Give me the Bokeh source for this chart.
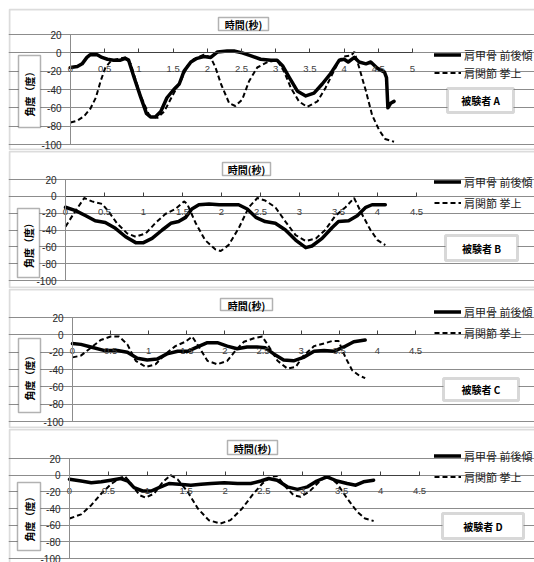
import math
from bokeh.plotting import figure
from bokeh.models import Range1d, FixedTicker, Legend, LegendItem, Label, BoxAnnotation
from bokeh.layouts import column
from bokeh.embed import file_html
from bokeh.resources import INLINE

try:
    from bokeh.models import GlobalInlineStyleSheet
except Exception:
    GlobalInlineStyleSheet = None

# ---------------- data ----------------
SERIES_NAMES = ["肩甲骨 前後傾", "肩関節 挙上"]
X_TITLE = "時間(秒)"
Y_TITLE = "角度（度）"
SUBJECT_LABELS = ["被験者 A", "被験者 B", "被験者 C", "被験者 D"]

Y_TICKS = [20, 0, -20, -40, -60, -80, -100]
Y_TICK_LABELS = ["20", "0", "-20", "-40", "-60", "-80", "-100"]
X_TICKS_A = [0, 0.5, 1, 1.5, 2, 2.5, 3, 3.5, 4, 4.5, 5]
X_TICK_LABELS_A = ["0", "0.5", "1", "1.5", "2", "2.5", "3", "3.5", "4", "4.5", "5"]
X_TICKS_BCD = [0, 0.5, 1, 1.5, 2, 2.5, 3, 3.5, 4, 4.5]
X_TICK_LABELS_BCD = ["0", "0.5", "1", "1.5", "2", "2.5", "3", "3.5", "4", "4.5"]

# Subject A
a_scap_t = [0, 0.1, 0.17, 0.24, 0.29, 0.39, 0.46, 0.54, 0.63, 0.73, 0.8, 0.85, 0.93, 1.02, 1.11, 1.17, 1.24, 1.32,
            1.41, 1.51, 1.59, 1.66, 1.76, 1.85, 1.95, 2.05, 2.15, 2.29, 2.39, 2.51, 2.63, 2.78, 2.93, 3.02, 3.1, 3.2,
            3.32, 3.44, 3.56, 3.68, 3.8, 3.93, 4.0, 4.06, 4.15, 4.22, 4.32, 4.39, 4.49, 4.59, 4.62, 4.64, 4.68, 4.73]
a_scap_v = [-16, -15, -12, -5, -2, -2, -5, -7, -8, -8, -6, -8, -27, -47, -66, -70, -70, -64,
            -49, -40, -34, -20, -10, -6, -4, -5, 1, 2, 2, 0, -3, -7, -8, -8, -14, -27,
            -42, -47, -44, -34, -23, -8, -7, -10, -5, -10, -12, -10, -17, -21, -27, -60, -55, -53]
a_sh_t = [0, 0.1, 0.2, 0.29, 0.37, 0.44, 0.51, 0.59, 0.68, 0.8, 0.88, 1.02, 1.15, 1.27, 1.37, 1.51, 1.61, 1.71,
          1.8, 1.95, 2.05, 2.12, 2.2, 2.32, 2.41, 2.51, 2.61, 2.73, 2.88, 3.02, 3.12, 3.22, 3.34, 3.46, 3.61, 3.73,
          3.83, 3.93, 4.0, 4.1, 4.15, 4.22, 4.32, 4.41, 4.51, 4.6, 4.73]
a_sh_v = [-76, -74, -69, -61, -49, -31, -16, -9, -7, -5, -12, -46, -68, -71, -64, -44, -31, -14,
          -7, -2, -5, -16, -34, -55, -58, -51, -31, -16, -10, -8, -20, -38, -53, -59, -53, -38,
          -23, -8, -4, -3, 1, -16, -42, -68, -84, -94, -97]

# Subject B
b_scap_t = [0, 0.13, 0.26, 0.38, 0.51, 0.64, 0.77, 0.9, 1.0, 1.11, 1.24, 1.35, 1.45, 1.54, 1.62, 1.71, 1.84, 1.97,
            2.09, 2.22, 2.33, 2.44, 2.56, 2.69, 2.82, 2.95, 3.08, 3.16, 3.29, 3.42, 3.5, 3.63, 3.74, 3.85, 3.93, 4.1]
b_scap_v = [-13, -17, -23, -29, -31, -38, -48, -55, -55, -50, -40, -32, -30, -25, -15, -10, -9, -10,
            -10, -10, -15, -25, -30, -32, -40, -52, -61, -59, -50, -37, -30, -29, -23, -13, -10, -10]
b_sh_t = [0, 0.13, 0.24, 0.34, 0.47, 0.56, 0.66, 0.79, 0.9, 1.03, 1.15, 1.28, 1.41, 1.52, 1.56, 1.67, 1.79, 1.92,
          1.99, 2.09, 2.22, 2.35, 2.46, 2.56, 2.69, 2.82, 2.95, 3.08, 3.21, 3.33, 3.46, 3.59, 3.7, 3.8, 3.91, 4.0, 4.1]
b_sh_v = [-36, -17, -2, -6, -9, -19, -32, -44, -48, -44, -32, -21, -15, -6, -9, -32, -52, -63,
          -65, -58, -38, -13, -2, -5, -13, -30, -46, -53, -50, -40, -23, -13, -2, -21, -40, -52, -58]

# Subject C
c_scap_t = [0, 0.11, 0.24, 0.41, 0.59, 0.72, 0.85, 0.98, 1.11, 1.24, 1.38, 1.51, 1.64, 1.77, 1.9, 2.03, 2.16, 2.29,
            2.42, 2.53, 2.64, 2.77, 2.9, 3.03, 3.17, 3.3, 3.43, 3.56, 3.69, 3.84]
c_scap_v = [-10, -11, -14, -18, -18, -20, -27, -29, -28, -22, -19, -19, -14, -9, -9, -13, -16, -14,
            -14, -15, -22, -29, -30, -26, -19, -18, -19, -14, -8, -6]
c_sh_t = [0, 0.11, 0.24, 0.37, 0.5, 0.61, 0.72, 0.83, 0.96, 1.09, 1.22, 1.35, 1.48, 1.57, 1.66, 1.77, 1.9, 2.03,
          2.14, 2.25, 2.38, 2.49, 2.58, 2.69, 2.82, 2.93, 3.03, 3.17, 3.3, 3.41, 3.49, 3.58, 3.67, 3.76, 3.84]
c_sh_v = [-26, -24, -15, -6, -2, -2, -11, -30, -37, -34, -22, -13, -8, -2, -14, -30, -34, -30,
          -18, -8, -4, -2, -14, -30, -39, -37, -24, -13, -10, -7, -7, -26, -41, -47, -50]

# Subject D
d_scap_t = [0, 0.15, 0.28, 0.41, 0.53, 0.66, 0.75, 0.83, 0.94, 1.05, 1.15, 1.28, 1.41, 1.56, 1.69, 1.82, 1.99, 2.16,
            2.33, 2.46, 2.56, 2.67, 2.8, 2.93, 3.06, 3.18, 3.31, 3.44, 3.57, 3.68, 3.78, 3.91]
d_scap_v = [-5, -7, -9, -8, -6, -4, -7, -15, -19, -19, -15, -10, -11, -12, -11, -10, -9, -10,
            -10, -7, -4, -6, -14, -17, -14, -7, -2, -7, -10, -12, -8, -6]
d_sh_t = [0, 0.15, 0.28, 0.41, 0.53, 0.64, 0.71, 0.79, 0.9, 0.98, 1.09, 1.2, 1.3, 1.39, 1.52, 1.65, 1.79, 1.94,
          2.07, 2.22, 2.35, 2.48, 2.59, 2.67, 2.76, 2.88, 2.97, 3.08, 3.21, 3.31, 3.44, 3.57, 3.7, 3.8, 3.91]
d_sh_v = [-52, -47, -36, -22, -11, -4, -1, -10, -24, -27, -22, -8, 0, -5, -20, -40, -54, -58,
          -54, -40, -24, -10, -2, -1, -12, -24, -26, -20, -8, 0, -10, -28, -44, -52, -55]

# ---------------- layout / style ----------------
W = 526
JP = "Noto Sans CJK JP"
LAT = "Liberation Sans"
GRID = "#8c8c8c"
YMIN, YMAX = -100, 20

# canvas pixel geometry of every panel (canvas y measured from the panel top)
GEOM = [
    dict(h=142, x0=62, x1=404, ytop=26, ybot=136, title=(210, 260, 9, 22), ylab=(10, 32, 47, 119),
         subj=(439, 505, 80, 104), leg_left=426, leg_row1=48, leg_pitch=17),
    dict(h=138, x0=57, x1=408, ytop=29, ybot=130, title=(214, 262, 12, 25), ylab=(9, 31, 58, 127),
         subj=(437, 509, 85, 110), leg_left=426, leg_row1=33, leg_pitch=20),
    dict(h=140, x0=64, x1=407, ytop=29, ybot=133, title=(212, 264, 10, 22), ylab=(10, 32, 50, 124),
         subj=(435, 510, 90, 112), leg_left=426, leg_row1=25, leg_pitch=20),
    dict(h=142, x0=61, x1=411, ytop=30, ybot=130, title=(219, 269, 12, 26), ylab=(9, 32, 54, 122),
         subj=(434, 515, 85, 110), leg_left=426, leg_row1=29, leg_pitch=20),
]


def add_box(p, H, l, r, t, b, color, width, fill=False):
    p.add_layout(BoxAnnotation(left=l, right=r, top=H - t, bottom=H - b,
                               left_units="screen", right_units="screen",
                               top_units="screen", bottom_units="screen",
                               fill_color="white", fill_alpha=1.0 if fill else 0.0,
                               line_color=color, line_width=width, level="overlay"))


def add_text(p, H, x, y, text, size, bold=True, angle=0.0):
    p.add_layout(Label(x=x, y=H - y, x_units="screen", y_units="screen", text=text,
                       text_align="center", text_baseline="middle", text_font=JP,
                       text_font_size=size, text_font_style="bold" if bold else "normal",
                       text_color="black", angle=angle, level="overlay"))


def make_panel(g, xmax, xticks, xlabels, t1, v1, t2, v2, subject):
    H = g["h"]
    sx = (g["x1"] - g["x0"]) / xmax
    sy = (g["ybot"] - g["ytop"]) / (YMAX - YMIN)
    xr = Range1d(-g["x0"] / sx, (W - g["x0"]) / sx)
    yr = Range1d(YMIN - (H - g["ybot"]) / sy, YMAX + g["ytop"] / sy)
    p = figure(width=W, height=H, x_range=xr, y_range=yr,
               output_backend="svg", toolbar_location=None,
               min_border=0, min_border_left=0, min_border_right=0,
               min_border_top=0, min_border_bottom=0)
    p.title.visible = False
    p.outline_line_color = None
    p.background_fill_color = "white"
    p.border_fill_color = "white"

    p.xgrid.visible = False
    p.ygrid.ticker = FixedTicker(ticks=Y_TICKS)
    p.ygrid.bounds = (0, xmax)
    p.ygrid.grid_line_color = GRID
    p.ygrid.grid_line_width = 1

    xa = p.xaxis[0]
    xa.ticker = FixedTicker(ticks=xticks)
    xa.major_label_overrides = {float(k): v for k, v in zip(xticks, xlabels)}
    xa.fixed_location = 0
    xa.bounds = (0, xmax)
    xa.axis_line_color = "#404040"
    xa.axis_line_width = 1.2
    xa.major_tick_in = 4
    xa.major_tick_out = 0
    xa.major_tick_line_color = "#404040"
    xa.minor_tick_line_color = None
    xa.major_label_standoff = 13
    xa.major_label_text_font = LAT
    xa.major_label_text_font_size = "9.5px"
    xa.major_label_text_color = "#404040"

    ya = p.yaxis[0]
    ya.ticker = FixedTicker(ticks=Y_TICKS)
    ya.major_label_overrides = {float(k): v for k, v in zip(Y_TICKS, Y_TICK_LABELS)}
    ya.fixed_location = 0
    ya.bounds = (YMIN, YMAX)
    ya.axis_line_color = GRID
    ya.major_tick_in = 0
    ya.major_tick_out = 0
    ya.minor_tick_line_color = None
    ya.major_label_standoff = 9
    ya.major_label_text_font = LAT
    ya.major_label_text_font_size = "10px"
    ya.major_label_text_color = "#262626"

    r1 = p.line(t1, v1, line_color="black", line_width=3.5, line_join="round", line_cap="round")
    r2 = p.line(t2, v2, line_color="black", line_width=2, line_dash="5 3")

    row_h = 15
    spacing = g["leg_pitch"] - row_h
    leg_h = 2 * row_h + spacing
    leg_top = g["leg_row1"] - row_h / 2
    leg = Legend(items=[LegendItem(label=SERIES_NAMES[0], renderers=[r1]),
                        LegendItem(label=SERIES_NAMES[1], renderers=[r2])],
                 location=(g["leg_left"], H - leg_top - leg_h), orientation="vertical",
                 padding=0, margin=0, spacing=spacing, glyph_width=27, glyph_height=row_h,
                 label_height=row_h, label_standoff=3, border_line_color=None,
                 background_fill_alpha=0, label_text_font=JP, label_text_font_size="11px",
                 label_text_color="#1a1a1a")
    p.add_layout(leg)

    # outer panel border
    add_box(p, H, 1, W + 10, 1, H - 1, GRID, 2)
    # title box
    l, r, t, b = g["title"]
    add_box(p, H, l, r, t, b, "black", 1.5, fill=True)
    add_text(p, H, (l + r) / 2, (t + b) / 2 + 0.5, X_TITLE, "10px")
    # y label box
    l, r, t, b = g["ylab"]
    add_box(p, H, l, r, t, b, "black", 1.5, fill=True)
    add_text(p, H, (l + r) / 2, (t + b) / 2, Y_TITLE, "10px", angle=math.pi / 2)
    # subject box
    l, r, t, b = g["subj"]
    add_box(p, H, l, r, t, b, "#7f7f7f", 3, fill=True)
    add_text(p, H, (l + r) / 2, (t + b) / 2, subject, "10px")
    return p


pA = make_panel(GEOM[0], 5, X_TICKS_A, X_TICK_LABELS_A, a_scap_t, a_scap_v, a_sh_t, a_sh_v, SUBJECT_LABELS[0])
pB = make_panel(GEOM[1], 4.5, X_TICKS_BCD, X_TICK_LABELS_BCD, b_scap_t, b_scap_v, b_sh_t, b_sh_v, SUBJECT_LABELS[1])
pC = make_panel(GEOM[2], 4.5, X_TICKS_BCD, X_TICK_LABELS_BCD, c_scap_t, c_scap_v, c_sh_t, c_sh_v, SUBJECT_LABELS[2])
pD = make_panel(GEOM[3], 4.5, X_TICKS_BCD, X_TICK_LABELS_BCD, d_scap_t, d_scap_v, d_sh_t, d_sh_v, SUBJECT_LABELS[3])

layout = column(pA, pB, pC, pD, spacing=0, margin=(8, 0, 0, 8))
if GlobalInlineStyleSheet is not None:
    layout.stylesheets = [GlobalInlineStyleSheet(css="html, body { overflow: hidden; }")]

open("out.html", "w").write(file_html(layout, INLINE))
